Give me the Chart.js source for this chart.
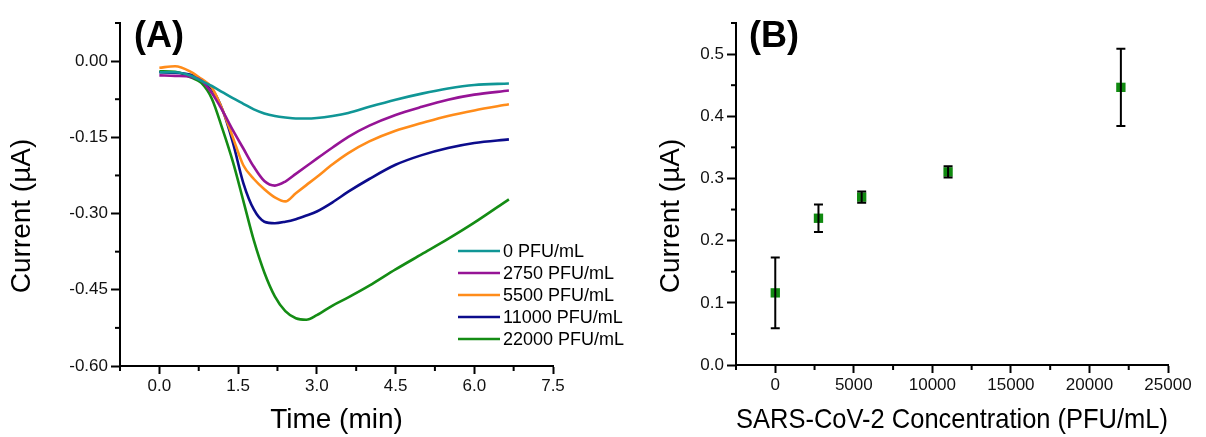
<!DOCTYPE html>
<html>
<head>
<meta charset="utf-8">
<script src="https://cdn.jsdelivr.net/npm/chart.js@4.4.0/dist/chart.umd.min.js"></script>
<style>
  html, body { margin: 0; padding: 0; background: #fff; }
  #wrap { position: relative; width: 1206px; height: 437px; }
  canvas { position: absolute; top: 0; }
</style>
</head>
<body>
<div id="wrap">
  <canvas id="chartA" width="660" height="437" style="left:0"></canvas>
  <canvas id="chartB" width="603" height="437" style="left:603px"></canvas>
</div>
<script>
// panel A: chronoamperometry curves, time in min, current in uA
var timeMin = [0, 0.3, 0.6, 0.8, 1.0, 1.2, 1.4, 1.6, 1.8, 2.0, 2.2, 2.4, 2.6, 2.8, 3.0, 3.3, 3.6, 4.0, 4.5, 5.0, 5.5, 6.0, 6.66];
var seriesLabels = ['0 PFU/mL', '2750 PFU/mL', '5500 PFU/mL', '11000 PFU/mL', '22000 PFU/mL'];
var seriesColors = ['#109696', '#961496', '#ff8c1a', '#0c0c8c', '#148c14'];
var cur0 = [-0.022, -0.022, -0.029, -0.039, -0.049, -0.061, -0.073, -0.084, -0.095, -0.103, -0.108, -0.111, -0.113, -0.113, -0.112, -0.108, -0.102, -0.090, -0.076, -0.064, -0.054, -0.047, -0.044];
var cur2750 = [-0.028, -0.029, -0.031, -0.038, -0.063, -0.097, -0.136, -0.172, -0.208, -0.236, -0.245, -0.237, -0.222, -0.207, -0.192, -0.170, -0.149, -0.127, -0.106, -0.090, -0.076, -0.066, -0.058];
var cur5500 = [-0.013, -0.010, -0.021, -0.035, -0.052, -0.095, -0.150, -0.205, -0.232, -0.252, -0.268, -0.276, -0.260, -0.244, -0.228, -0.203, -0.181, -0.158, -0.137, -0.122, -0.108, -0.097, -0.085];
var cur11000 = [-0.022, -0.023, -0.027, -0.036, -0.055, -0.095, -0.160, -0.240, -0.292, -0.316, -0.319, -0.316, -0.311, -0.304, -0.296, -0.278, -0.257, -0.232, -0.204, -0.185, -0.171, -0.161, -0.154];
var cur22000 = [-0.020, -0.021, -0.032, -0.043, -0.074, -0.133, -0.198, -0.275, -0.353, -0.416, -0.463, -0.492, -0.506, -0.509, -0.500, -0.481, -0.465, -0.442, -0.410, -0.380, -0.350, -0.318, -0.272];
var curves = [cur0, cur2750, cur5500, cur11000, cur22000];

// panel B: peak current vs concentration
var concPFU = [0, 2750, 5500, 11000, 22000];
var peakCurrent = [0.116, 0.236, 0.270, 0.3105, 0.4465];
var peakError = [0.057, 0.022, 0.009, 0.009, 0.062];

var FONT = 'Liberation Sans, Arial, sans-serif';
Chart.defaults.font.family = FONT;
Chart.defaults.color = '#000';

function isMajor(v, major) {
  return Math.abs(v / major - Math.round(v / major)) < 1e-6;
}
function fmt(v, digits) {
  if (Math.abs(v) < 1e-9) v = 0;
  return digits < 0 ? String(Math.round(v)) : v.toFixed(digits);
}

function axisOpts(min, max, step, major, digits, tickLen, pad, fitSize, horizontal, title) {
  return {
    type: 'linear',
    min: min, max: max,
    majorStep: major,
    border: { display: true, color: '#000', width: 2 },
    grid: {
      display: true, drawOnChartArea: false, drawTicks: true,
      tickLength: tickLen, tickWidth: 2,
      tickColor: function(ctx) { return isMajor(ctx.tick.value, major) ? '#000' : 'rgba(0,0,0,0)'; }
    },
    ticks: {
      stepSize: step, autoSkip: false, maxRotation: 0, padding: pad,
      color: '#111', font: { size: 17 },
      callback: function(v) { return isMajor(v, major) ? fmt(v, digits) : ''; }
    },
    title: title ? { display: true, text: title, font: { size: 28 }, padding: { top: 0, bottom: 0 }, color: '#000' } : { display: false },
    afterFit: function(scale) {
      if (horizontal) scale.height = fitSize; else scale.width = fitSize;
    }
  };
}

// short minor ticks, y title and panel letter
function decorPlugin(yTitleX, letter, letterX) {
  return {
    id: 'decor',
    afterDraw: function(chart) {
      var ctx = chart.ctx;
      var xs = chart.scales.x, ys = chart.scales.y;
      ctx.save();
      ctx.strokeStyle = '#000';
      ctx.lineWidth = 2;
      xs.ticks.forEach(function(t) {
        if (isMajor(t.value, xs.options.majorStep)) return;
        var px = xs.getPixelForValue(t.value);
        ctx.beginPath(); ctx.moveTo(px, xs.top); ctx.lineTo(px, xs.top + 5); ctx.stroke();
      });
      ys.ticks.forEach(function(t) {
        if (isMajor(t.value, ys.options.majorStep)) return;
        var py = ys.getPixelForValue(t.value);
        ctx.beginPath(); ctx.moveTo(ys.right - 5, py); ctx.lineTo(ys.right, py); ctx.stroke();
      });
      ctx.fillStyle = '#000';
      ctx.font = '28px ' + FONT;
      ctx.textAlign = 'center';
      ctx.textBaseline = 'middle';
      ctx.translate(yTitleX, 216);
      ctx.rotate(-Math.PI / 2);
      ctx.fillText('Current (\u00b5A)', 0, 0);
      ctx.restore();
      ctx.save();
      ctx.font = 'bold 36px ' + FONT;
      ctx.textAlign = 'left';
      ctx.textBaseline = 'alphabetic';
      ctx.fillStyle = '#000';
      ctx.fillText(letter, letterX, 47);
      ctx.restore();
    }
  };
}

var legendPlugin = {
  id: 'inlineLegend',
  afterDraw: function(chart) {
    var ctx = chart.ctx;
    ctx.save();
    ctx.font = '18px ' + FONT;
    ctx.textBaseline = 'middle';
    ctx.textAlign = 'left';
    chart.data.datasets.forEach(function(ds, i) {
      var y = 251 + i * 22;
      ctx.strokeStyle = ds.borderColor;
      ctx.lineWidth = 2.6;
      ctx.beginPath(); ctx.moveTo(458, y); ctx.lineTo(500, y); ctx.stroke();
      ctx.fillStyle = '#000';
      ctx.fillText(ds.label, 503, y + 1);
    });
    ctx.restore();
  }
};

var errorBarPlugin = {
  id: 'errorBars',
  afterDatasetsDraw: function(chart) {
    var ctx = chart.ctx;
    var xs = chart.scales.x, ys = chart.scales.y;
    ctx.save();
    ctx.strokeStyle = '#000';
    ctx.lineWidth = 2;
    for (var i = 0; i < concPFU.length; i++) {
      var px = xs.getPixelForValue(concPFU[i]);
      var top = ys.getPixelForValue(peakCurrent[i] + peakError[i]);
      var bot = ys.getPixelForValue(peakCurrent[i] - peakError[i]);
      ctx.beginPath();
      ctx.moveTo(px, top); ctx.lineTo(px, bot);
      ctx.moveTo(px - 4.5, top); ctx.lineTo(px + 4.5, top);
      ctx.moveTo(px - 4.5, bot); ctx.lineTo(px + 4.5, bot);
      ctx.stroke();
    }
    ctx.restore();
  }
};

new Chart(document.getElementById('chartA'), {
  type: 'line',
  data: {
    datasets: curves.map(function(c, i) {
      return {
        label: seriesLabels[i],
        data: timeMin.map(function(t, j) { return { x: t, y: c[j] }; }),
        borderColor: seriesColors[i],
        borderWidth: 2.6,
        pointRadius: 0,
        fill: false,
        cubicInterpolationMode: 'monotone'
      };
    })
  },
  options: {
    responsive: false,
    animation: false,
    layout: { padding: { left: 0, right: 107, top: 23, bottom: 0 } },
    plugins: { legend: { display: false }, tooltip: { enabled: false } },
    scales: {
      x: axisOpts(-0.75, 7.5, 0.75, 1.5, 1, 8, 2, 71, true, 'Time (min)'),
      y: axisOpts(-0.6, 0.075, 0.075, 0.15, 2, 9, 3, 120, false, null)
    }
  },
  plugins: [decorPlugin(22.6, '(A)', 134), legendPlugin]
});

new Chart(document.getElementById('chartB'), {
  type: 'scatter',
  data: {
    datasets: [{
      label: 'Current',
      data: concPFU.map(function(c, i) { return { x: c, y: peakCurrent[i] }; }),
      pointStyle: 'rect',
      pointRadius: 6.6,
      backgroundColor: '#108a10',
      borderColor: '#108a10',
      borderWidth: 0
    }]
  },
  options: {
    responsive: false,
    animation: false,
    layout: { padding: { left: 0, right: 38, top: 23, bottom: 0 } },
    plugins: { legend: { display: false }, tooltip: { enabled: false } },
    scales: {
      x: axisOpts(-2500, 25000, 2500, 5000, -1, 8, 2, 72, true, 'SARS-CoV-2 Concentration (PFU/mL)'),
      y: axisOpts(0, 0.55, 0.05, 0.1, 1, 9, 3, 133, false, null)
    }
  },
  plugins: [decorPlugin(68.3, '(B)', 146), errorBarPlugin]
});
</script>
</body>
</html>
